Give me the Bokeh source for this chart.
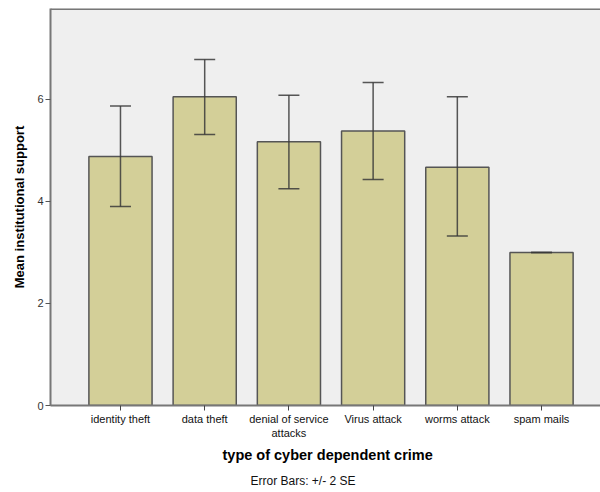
from bokeh.plotting import figure
from bokeh.models import ColumnDataSource, FixedTicker, Whisker, TeeHead, Span, Title, Range1d
from bokeh.embed import file_html
from bokeh.resources import INLINE

categories = ["identity theft", "data theft", "denial of service\nattacks",
              "Virus attack", "worms attack", "spam mails"]
means = [4.88, 6.05, 5.17, 5.38, 4.67, 3.00]
upper = [5.87, 6.78, 6.08, 6.33, 6.05, 3.00]
lower = [3.90, 5.31, 4.25, 4.43, 3.32, 3.00]
y_ticks = [0, 2, 4, 6]

xpos = list(range(1, len(categories) + 1))
src = ColumnDataSource(dict(x=xpos, top=means, upper=upper, lower=lower))

p = figure(width=600, height=492, output_backend="svg", toolbar_location=None,
           x_range=Range1d(0.169, 6.70), y_range=Range1d(0, 7.78),
           min_border_top=8, min_border_right=0, min_border_left=50,
           min_border_bottom=87)
p.background_fill_color = "#EFEFEF"
p.border_fill_color = "white"
p.outline_line_color = None
p.grid.visible = False

p.vbar(x="x", top="top", width=0.75, source=src, fill_color="#D3CF98",
       line_color="#555555", line_width=1.5)

w = Whisker(base="x", upper="upper", lower="lower", source=src, level="overlay",
            line_color="#3a3a3a", line_width=1.5, line_alpha=0.85,
            upper_head=TeeHead(size=21, line_color="#3a3a3a", line_width=1.5, line_alpha=0.85),
            lower_head=TeeHead(size=21, line_color="#3a3a3a", line_width=1.5, line_alpha=0.85))
p.add_layout(w)

p.add_layout(Span(location=7.78, dimension="width", line_color="#777777", line_width=3))

p.xaxis.ticker = FixedTicker(ticks=xpos)
p.xaxis.major_label_overrides = {i: c for i, c in zip(xpos, categories)}
p.xaxis.major_label_text_font = "Liberation Sans"
p.xaxis.major_label_text_font_size = "11px"
p.xaxis.major_label_text_color = "#111111"
p.xaxis.major_tick_out = 5
p.xaxis.major_tick_in = 0
p.xaxis.minor_tick_line_color = None
p.xaxis.major_tick_line_color = "#444444"
p.xaxis.axis_line_color = "#777777"
p.xaxis.axis_line_width = 2
p.xaxis.major_label_standoff = 2

p.yaxis.ticker = FixedTicker(ticks=y_ticks)
p.yaxis.major_label_text_font = "Liberation Sans"
p.yaxis.major_label_text_font_size = "11px"
p.yaxis.major_label_text_color = "#333333"
p.yaxis.major_tick_out = 5
p.yaxis.major_tick_in = 0
p.yaxis.minor_tick_line_color = None
p.yaxis.major_tick_line_color = "#555555"
p.yaxis.axis_line_color = "#777777"
p.yaxis.axis_line_width = 2
p.yaxis.major_label_standoff = 2
p.yaxis.axis_label = "Mean institutional support"
p.yaxis.axis_label_text_font = "Liberation Sans"
p.yaxis.axis_label_text_font_size = "13px"
p.yaxis.axis_label_text_font_style = "bold"
p.yaxis.axis_label_text_color = "#000000"
p.yaxis.axis_label_standoff = 7

p.add_layout(Title(text="type of cyber dependent crime", align="left", offset=172,
                   text_font="Liberation Sans", text_font_size="14.5px",
                   text_font_style="bold", text_color="#000000",
                   standoff=7), "below")
p.add_layout(Title(text="Error Bars: +/- 2 SE", align="left", offset=200,
                   text_font="Liberation Sans", text_font_size="12px",
                   text_font_style="normal", text_color="#111111",
                   standoff=10), "below")

open("out.html", "w").write(file_html(p, INLINE))
